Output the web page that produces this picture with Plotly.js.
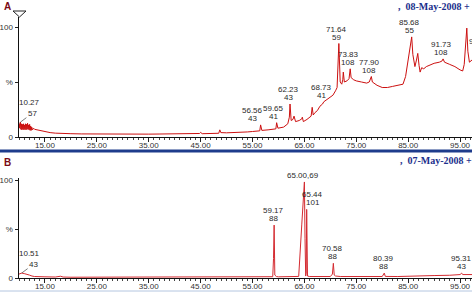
<!DOCTYPE html>
<html>
<head>
<meta charset="utf-8">
<script src="https://cdn.plot.ly/plotly-3.0.1.min.js"></script>
<style>html,body{margin:0;padding:0;background:#fff;}#chart{width:472px;height:292px;}</style>
</head>
<body>
<div id="chart"></div>
<script>
// Panel A (08-May-2008) chromatogram: retention time (min) and relative intensity (%)
const timeA = [10.0,10.05,10.15,10.27,10.35,10.45,10.55,10.65,10.75,10.85,10.95,11.05,11.15,11.25,11.35,11.45,11.55,11.65,11.75,11.85,11.95,12.05,12.15,12.25,12.35,12.45,12.6,12.8,13.0,13.5,14.0,14.5,15,16,17,18,20,22,25,28,30,33,35,37,40,42,44,44.8,45.0,45.3,47,48.5,48.7,48.9,50,52,54,55,56,56.4,56.56,56.8,58,59,59.5,59.65,59.9,61,61.8,62.1,62.23,62.45,62.8,63.0,63.3,64,64.5,64.6,64.8,65.5,66.3,66.5,66.7,67,67.5,68,68.5,68.73,69,70,70.5,71,71.3,71.64,71.9,72.2,72.4,72.5,72.7,73.2,73.6,73.83,74.0,74.5,75,76,77,77.5,77.9,78.1,79,80,81,82,83,84,84.5,85,85.4,85.68,85.9,86.3,86.6,86.85,87.1,87.3,87.6,88,88.5,89,90,91,91.5,91.73,92,93,94,95,95.5,95.8,96.1,96.3,96.5,96.8,97.3];
const intA = [12,8,12,13.5,7,12,6.5,11.5,7,12,6.5,11,7,12,6.5,11.5,7,12.5,7,11,6.5,11.5,6,10,6,9,6.5,8,7,6.5,5.5,5,4.5,4,3.5,3.2,3,2.8,2.6,2.5,2.4,2.4,2.6,2.7,2.8,3,3.1,3.2,4.2,3,3.2,3.4,6.5,4,3.8,4,4.6,5,5.2,5.6,11,6,6.5,7,7.4,13,8,9,12,18,30,15,16,19,14,15,16.5,18,14,16,19,27,20,22,24,28,30,32,33,36,38,42,45,85,50,48,52,59,50,51,53,62,54,52,51,50,49,50,55,50,47,45,45,46,47,48,55,70,80,91,75,64,70,76,65,59,63,62,64,65,67,68,69,71,68,66,64,61,60,66,85,99,78,68,70];

// Panel B (07-May-2008) chromatogram
const timeB = [10.0,10.51,11,11.5,12,12.5,13,15,17,18,18.5,20,25,30,35,40,45,50,55,57,58.9,59.05,59.17,59.3,59.6,60,62,63.5,63.9,64.5,65.0,65.12,65.25,65.35,65.44,65.6,66,68,70,70.4,70.58,70.75,71,72,75,77,78,80,80.39,80.6,83,85,88,90,93,95,95.31,95.5,97.3];
const intB = [4,5,4.5,4,3,2,1.5,1.2,1,1.8,1,0.8,0.8,0.9,1,0.9,1,1.1,1.2,1.3,1.3,20,54,3,1.5,1.2,1.2,1.4,1.6,55,98,40,2,5,70,2,1.5,1.2,1.5,4,15,3,2,1.5,1.5,2,1.5,1.5,5,1.6,1.5,2,2.2,2.5,2.8,3.5,5,3.5,3.5];

// Peak labels (time, base ion, label anchor height in %)
const peakA_time = ["10.27","56.56","59.65","62.23","68.73","71.64","73.83","77.90","85.68","91.73","96.30"];
const peakA_ion  = ["57","43","41","43","41","59","108","108","55","108","55"];
const peakA_y    = [13.5,11,13,30,32,85,62,55,91,71,74];
const peakB_time = ["10.51","59.17","65.00","65.44","70.58","80.39","95.31"];
const peakB_ion  = ["43","88","69","101","88","88","43"];
const peakB_y    = [5,54,98,70,15,5,5];

const xTickStart = 15, xTickStep = 10;
const dateA = ",  08-May-2008 + 0";
const dateB = ",  07-May-2008 +";

const W = 472, H = 292;
const py = v => 1 - v / H; // pixel row -> paper
const px = v => v / W;

const red = '#cc1010';
const traces = [
  {x: timeA, y: intA, xaxis: 'x', yaxis: 'y', type: 'scatter', mode: 'lines',
   line: {color: red, width: 1}, hoverinfo: 'skip'},
  {x: timeB, y: intB, xaxis: 'x2', yaxis: 'y2', type: 'scatter', mode: 'lines',
   line: {color: '#d42a30', width: 1}, hoverinfo: 'skip'}
];

const lblFont = {family: 'Liberation Sans, Arial, sans-serif', size: 8, color: '#2a2a2a'};
const annotations = [];
function addPeak(xr, yr, t, ion, y, xs, arrow, inline) {
  if (inline) {
    annotations.push({xref: xr, yref: yr, x: parseFloat(t), y: y, text: t + ',' + ion,
      showarrow: false, yanchor: 'bottom', xanchor: 'center', yshift: 0, xshift: xs, font: lblFont});
    return;
  }
  if (arrow) {
    annotations.push({xref: xr, yref: yr, x: parseFloat(t), y: y, text: ion,
      showarrow: true, arrowhead: 0, arrowwidth: 0.7, arrowcolor: '#444', ax: 12, ay: -9,
      font: lblFont});
    annotations.push({xref: xr, yref: yr, x: parseFloat(t), y: y, text: t,
      showarrow: false, yanchor: 'bottom', xanchor: 'center', xshift: xs, yshift: 13, font: lblFont});
    return;
  }
  annotations.push({xref: xr, yref: yr, x: parseFloat(t), y: y, text: ion,
    showarrow: false, yanchor: 'bottom', xanchor: 'center', xshift: xs, yshift: 0, font: lblFont});
  annotations.push({xref: xr, yref: yr, x: parseFloat(t), y: y, text: t,
    showarrow: false, yanchor: 'bottom', xanchor: 'center', xshift: xs, yshift: 8, font: lblFont});
}
const shiftA = [9,-8,-3,-2,-2,-2,-2,-2,-2,-2,13];
peakA_time.forEach((t, i) => addPeak('x', 'y', t, peakA_ion[i], peakA_y[i], shiftA[i], i === 0, false));
const shiftB = [8,-1,-1,6,-1,-1,0];
peakB_time.forEach((t, i) => addPeak('x2', 'y2', t, peakB_ion[i], peakB_y[i], shiftB[i], i === 0, i === 2));

annotations.push({xref: 'paper', yref: 'paper', x: px(2), y: py(7), text: '<b>A</b>', showarrow: false,
  xanchor: 'left', yanchor: 'middle', font: {family: 'Liberation Sans, Arial', size: 10, color: '#7a0a14'}});
annotations.push({xref: 'paper', yref: 'paper', x: px(2), y: py(162), text: '<b>B</b>', showarrow: false,
  xanchor: 'left', yanchor: 'middle', font: {family: 'Liberation Sans, Arial', size: 10, color: '#7a0a14'}});
annotations.push({xref: 'paper', yref: 'paper', x: px(396), y: py(7), text: '<b>' + dateA + '</b>', showarrow: false,
  xanchor: 'left', yanchor: 'middle', font: {family: 'Liberation Serif, Times New Roman, serif', size: 10, color: '#1b2f8c'}});
annotations.push({xref: 'paper', yref: 'paper', x: px(398), y: py(160), text: '<b>' + dateB + '</b>', showarrow: false,
  xanchor: 'left', yanchor: 'middle', font: {family: 'Liberation Serif, Times New Roman, serif', size: 10, color: '#1b2f8c'}});

const tickFont = {family: 'Liberation Sans, Arial, sans-serif', size: 8, color: '#333'};
const xBase = {
  range: [10, 97.3], tick0: xTickStart, dtick: xTickStep, tickformat: '.2f',
  ticks: 'outside', ticklen: 4, tickcolor: '#222', tickwidth: 1,
  showline: true, linecolor: '#111', linewidth: 1, showgrid: false, zeroline: false,
  tickfont: tickFont, fixedrange: true, ticklabelstandoff: -4,
  minor: {dtick: 1, ticks: 'outside', ticklen: 2, tickcolor: '#444', showgrid: false}
};
const yBase = {
  tickvals: [0, 50, 100], ticktext: ['0', '%', '100'],
  ticks: 'outside', ticklen: 3, tickcolor: '#222',
  showline: true, linecolor: '#111', linewidth: 1.5, showgrid: false, zeroline: false,
  tickfont: tickFont, fixedrange: true
};

const layout = {
  width: W, height: H,
  margin: {l: 0, r: 0, t: 0, b: 0},
  paper_bgcolor: '#fff', plot_bgcolor: '#fff',
  showlegend: false,
  xaxis: Object.assign({}, xBase, {domain: [px(19), 1], anchor: 'y'}),
  yaxis: Object.assign({}, yBase, {domain: [py(137), py(17)], range: [0, 120 / 1.1], anchor: 'x'}),
  xaxis2: Object.assign({}, xBase, {domain: [px(19), 1], anchor: 'y2'}),
  yaxis2: Object.assign({}, yBase, {domain: [py(278), py(178)], range: [0, 100 / 0.98], anchor: 'x2'}),
  annotations: annotations,
  shapes: [
    {type: 'line', xref: 'paper', yref: 'paper', x0: 0, x1: 1, y0: py(151), y1: py(151),
     line: {color: '#1e3c8c', width: 3}},
    {type: 'line', xref: 'paper', yref: 'paper', x0: 0, x1: 1, y0: py(291), y1: py(291),
     line: {color: '#b4c6e0', width: 1}},
    {type: 'path', xref: 'paper', yref: 'paper',
     path: 'M ' + px(13) + ',' + py(11) + ' L ' + px(26) + ',' + py(11) + ' L ' + px(19.5) + ',' + py(17) + ' Z',
     line: {color: '#222', width: 1}, fillcolor: '#fff'}
  ]
};

Plotly.newPlot('chart', traces, layout, {staticPlot: true, displayModeBar: false});
</script>
</body>
</html>
